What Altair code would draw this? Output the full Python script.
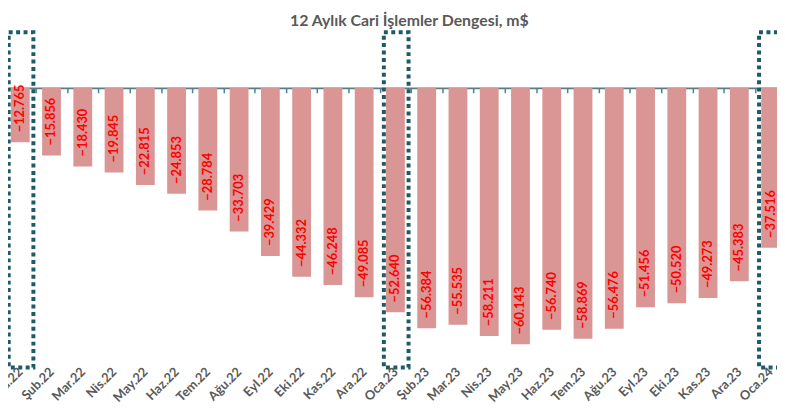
import altair as alt
import pandas as pd

months = ["Oca.22", "Şub.22", "Mar.22", "Nis.22", "May.22", "Haz.22", "Tem.22",
          "Ağu.22", "Eyl.22", "Eki.22", "Kas.22", "Ara.22", "Oca.23", "Şub.23",
          "Mar.23", "Nis.23", "May.23", "Haz.23", "Tem.23", "Ağu.23", "Eyl.23",
          "Eki.23", "Kas.23", "Ara.23", "Oca.24"]
values = [-12.765, -15.856, -18.430, -19.845, -22.815, -24.853, -28.784,
          -33.703, -39.429, -44.332, -46.248, -49.085, -52.640, -56.384,
          -55.535, -58.211, -60.143, -56.740, -58.869, -56.476, -51.456,
          -50.520, -49.273, -45.383, -37.516]
highlight = ["Oca.22", "Oca.23", "Oca.24"]

df = pd.DataFrame({"i": list(range(len(months))), "month": months, "v": values})
hl_idx = [months.index(m) for m in highlight]
hl = pd.DataFrame({
    "x0": [k - 0.37 for k in hl_idx],
    "x1": [k + 0.42 for k in hl_idx],
    "top": [13.0] * len(hl_idx),
    "bottom": [-65.6] * len(hl_idx),
})

x_scale = alt.Scale(domain=[-0.234, 24.047], nice=False, zero=False)
y_scale = alt.Scale(domain=[-61.14, 13.11], nice=False)

label_expr = "[" + ",".join("'" + m + "'" for m in months) + "][datum.value]"

bars = alt.Chart(df).mark_bar(size=19, color="#D99694", clip=True).encode(
    x=alt.X("i:Q", scale=x_scale,
            axis=alt.Axis(orient="bottom",
                          values=[k + 0.5 for k in range(len(months) - 1)],
                          labels=False, title=None, grid=False, offset=-263.5,
                          domainColor="#557F8B", domainWidth=1.8,
                          tickColor="#557F8B", tickSize=5, tickWidth=1.5)),
    y=alt.Y("v:Q", scale=y_scale, axis=None),
    y2=alt.datum(0),
)

labels = alt.Chart(df).mark_text(
    angle=270, align="left", baseline="middle", dx=10,
    color="#FF0000", font="Lato", fontSize=13, fontWeight="bold"
).encode(
    x=alt.X("i:Q", scale=x_scale,
            axis=alt.Axis(orient="bottom",
                          values=list(range(len(months))), labelExpr=label_expr,
                          labelAngle=-45, labelAlign="right", labelBaseline="middle",
                          labelFont="Lato", labelFontSize=13, labelFontWeight="bold",
                          labelColor="#595959", labelPadding=21, labelOverlap=False,
                          labelFlush=False, labelBound=False,
                          domain=False, ticks=False, grid=False, title=None)),
    y=alt.Y("v:Q", scale=y_scale, axis=None),
    text=alt.Text("v:Q", format=".3f"),
)

boxes = alt.Chart(hl).mark_rect(
    fillOpacity=0, stroke="#1F5A69", strokeWidth=4, strokeDash=[4, 3.5]
).encode(
    x=alt.X("x0:Q", scale=x_scale, axis=None),
    x2="x1:Q",
    y=alt.Y("top:Q", scale=y_scale, axis=None),
    y2="bottom:Q",
)

chart = alt.layer(bars, labels, boxes).resolve_axis(x="independent").properties(
    width=777, height=320,
    autosize=alt.AutoSizeParams(type="none"),
    padding={"left": 0, "top": 22, "right": 0, "bottom": 62},
    title=alt.Title("12 Aylık Cari İşlemler Dengesi, m$", font="Lato", fontSize=16,
                    fontWeight="bold", color="#595959", anchor="middle",
                    dx=17, dy=20, offset=8, baseline="alphabetic"),
).configure_view(stroke=None)

chart.save("out.html", embed_options={"renderer": "svg", "actions": False})
